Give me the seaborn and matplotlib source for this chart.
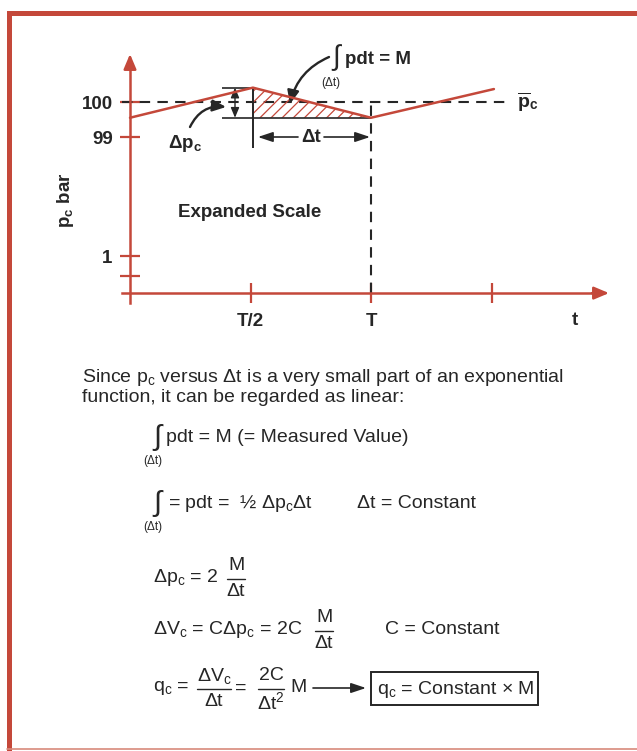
"""Pressure-integral sketch (p_c vs t) with the derivation underneath."""
import matplotlib

matplotlib.use("Agg")
import matplotlib.pyplot as plt
import seaborn as sns

# chart values: time in units of T, pressure in bar on the expanded scale
times = [0.0, 0.51, 1.0, 1.51]
pressure = [99.55, 100.41, 99.55, 100.37]
p_mean = 100.0
x_ticks = [0.5, 1.0, 1.5]
x_tick_labels = ["T/2", "T", ""]
y_ticks = [100.0, 99.0, 95.6, 95.03]
y_tick_labels = ["100", "99", "1", ""]
p_floor = 94.54  # where the time axis sits

RED = "#c4483a"
INK = "#262626"
W, H = 637, 751

# pixel geometry of the chart (origin / scale)
X0, PX_T = 130, 241
Y100, PX_P = 102, 35


def dx(px):
    return (px - X0) / PX_T


def dy(py):
    return 100 - (py - Y100) / PX_P


def main():
    sns.set_style("white")
    plt.rcParams["font.family"] = ["Liberation Sans", "DejaVu Sans"]
    plt.rcParams["mathtext.fontset"] = "custom"
    plt.rcParams["mathtext.rm"] = "Liberation Sans"
    plt.rcParams["mathtext.it"] = "Liberation Sans"
    plt.rcParams["mathtext.bf"] = "Liberation Sans:bold"
    plt.rcParams["mathtext.default"] = "regular"
    plt.rcParams["hatch.linewidth"] = 0.9

    fig = plt.figure(figsize=(W / 100, H / 100), dpi=100)
    fig.patch.set_facecolor("white")

    # page layer in pixel units (frame + derivation text)
    bg = fig.add_axes([0, 0, 1, 1])
    bg.set_xlim(0, W)
    bg.set_ylim(H, 0)
    bg.axis("off")
    bg.add_patch(plt.Rectangle((7, 11), W, 5, color=RED, lw=0))
    bg.add_patch(plt.Rectangle((7, 11), 5, H, color=RED, lw=0))
    bg.plot([7, W], [749, 749], color="#d88a7c", lw=1.2)

    # ---- chart ----
    ax = fig.add_axes([100 / W, 1 - 330 / H, 520 / W, 290 / H])
    ax.patch.set_alpha(0)
    sns.lineplot(x=times, y=pressure, color=RED, lw=1.8, ax=ax, zorder=4)
    ax.set_xlim(dx(100), dx(620))
    ax.set_ylim(dy(330), dy(40))

    for side in ("top", "right"):
        ax.spines[side].set_visible(False)
    ax.spines["left"].set_position(("data", 0))
    ax.spines["bottom"].set_position(("data", p_floor))
    ax.spines["left"].set_bounds(dy(303), dy(62))
    ax.spines["bottom"].set_bounds(dx(122), dx(600))
    for side in ("left", "bottom"):
        ax.spines[side].set_color(RED)
        ax.spines[side].set_linewidth(1.8)

    ax.set_xticks(x_ticks, x_tick_labels, fontweight="bold", fontsize=13.5, color=INK)
    ax.set_yticks(y_ticks, y_tick_labels, fontweight="bold", fontsize=13.5, color=INK)
    ax.tick_params(axis="both", direction="inout", length=15, width=1.6, color=RED,
                   left=True, bottom=True)
    ax.tick_params(axis="x", pad=7)
    ax.tick_params(axis="y", pad=5)
    ax.set_xlabel("")
    ax.set_ylabel("")

    head = dict(arrowstyle="-|>,head_length=0.9,head_width=0.38", color=RED,
                lw=1.8, shrinkA=0, shrinkB=0)
    ax.annotate("", xy=(0, dy(54)), xytext=(0, dy(70)), arrowprops=head)
    ax.annotate("", xy=(dx(609), p_floor), xytext=(dx(592), p_floor), arrowprops=head)

    dash = (0, (5, 3.5))
    ax.hlines(p_mean, dx(122), dx(507), color=INK, lw=1.5, linestyles=[dash])
    ax.vlines(times[2], p_floor, p_mean, color=INK, lw=1.5, linestyles=[dash])

    # hatched area between the falling segment and its end level
    ax.fill([times[1], times[2], times[1]], [pressure[1], pressure[2], pressure[2]],
            facecolor="none", edgecolor=RED, hatch="///", lw=0, zorder=2)

    # bracket for delta p_c
    ax.hlines(pressure[1], dx(222), times[1], color=INK, lw=1.2)
    ax.hlines(pressure[2], dx(222), times[2], color=INK, lw=1.2)
    ax.vlines(times[1], dy(148), pressure[1], color=INK, lw=1.4)
    dbl = dict(arrowstyle="<|-|>,head_length=0.6,head_width=0.25", color=INK,
               lw=1.0, shrinkA=0, shrinkB=0)
    ax.annotate("", xy=(dx(235), pressure[1]), xytext=(dx(235), pressure[2]), arrowprops=dbl)

    # delta t span
    one = dict(arrowstyle="-|>,head_length=0.9,head_width=0.3", color=INK,
               lw=1.2, shrinkA=0, shrinkB=0)
    ax.annotate("", xy=(times[1] + dx(258) - dx(253), 99), xytext=(dx(298), 99), arrowprops=one)
    ax.annotate("", xy=(times[2] - 0.004, 99), xytext=(dx(324), 99), arrowprops=one)
    ax.text(dx(311), 99, "Δt", fontsize=13.5, fontweight="bold", color=INK,
            ha="center", va="center")

    # labels
    ax.text(dx(185), dy(143), r"$\Delta p_c$", fontsize=13.5, fontweight="bold",
            color=INK, ha="center", va="center")
    curve = dict(arrowstyle="-|>,head_length=0.8,head_width=0.35", color=INK, lw=1.7,
                 shrinkA=0, shrinkB=0, connectionstyle="arc3,rad=-0.35")
    ax.annotate("", xy=(dx(226), dy(107)), xytext=(dx(190), dy(127)), arrowprops=curve)
    curve2 = dict(curve, connectionstyle="arc3,rad=0.25")
    ax.annotate("", xy=(dx(290), dy(104)), xytext=(dx(329), dy(57)), arrowprops=curve2)

    ax.text(dx(336), dy(58), "∫", fontsize=20, color=INK, ha="center", va="center")
    ax.text(dx(345), dy(59), "pdt = M", fontsize=13.5, fontweight="bold", color=INK,
            ha="left", va="center")
    ax.text(dx(331), dy(83), "(Δt)", fontsize=8.5, color=INK, ha="center", va="center")
    ax.text(dx(517), p_mean, r"$\overline{\mathbf{p}}_\mathbf{c}$", fontsize=14,
            color=INK, ha="left", va="center")
    ax.text(dx(250), dy(212), "Expanded Scale", fontsize=13.5, fontweight="bold",
            color=INK, ha="center", va="center")
    ax.text(dx(575), dy(320), "t", fontsize=13.5, fontweight="bold", color=INK,
            ha="center", va="center")
    fig.text(65 / W, 1 - 200 / H, r"$\mathbf{p_c}$ bar", rotation=90, fontsize=13.5,
             fontweight="bold", color=INK, ha="center", va="center")

    # ---- derivation text (pixel layer) ----
    def t(x, y, s, size=14, ha="left"):
        bg.text(x, y, s, fontsize=size, color=INK, ha=ha, va="center")

    def frac(xc, y, top, bottom, half):
        t(xc, y - 12, top, ha="center")
        t(xc, y + 14, bottom, ha="center")
        bg.plot([xc - half, xc + half], [y + 1, y + 1], color=INK, lw=1.0)

    t(82, 377, r"Since $p_c$ versus Δt is a very small part of an exponential")
    t(82, 398, "function, it can be regarded as linear:")

    t(157, 437, "∫", size=21, ha="center")
    t(166, 437, "pdt = M (= Measured Value)")
    t(153, 461, "(Δt)", size=8.5, ha="center")

    t(157, 503, "∫", size=21, ha="center")
    t(168, 503, r"= pdt =  ½ $\Delta p_c \Delta t$")
    t(357, 503, "Δt = Constant")
    t(153, 527, "(Δt)", size=8.5, ha="center")

    t(153, 578, r"$\Delta p_c$ = 2")
    frac(236, 578, "M", "Δt", 9)

    t(153, 630, r"$\Delta V_c$ = C$\Delta p_c$ = 2C")
    frac(324, 630, "M", "Δt", 9)
    t(385, 630, "C = Constant")

    t(153, 688, r"$q_c$ =")
    frac(214, 688, r"$\Delta V_c$", "Δt", 17)
    t(241, 688, "=", ha="center")
    frac(271, 688, "2C", r"Δt$^2$", 13)
    t(290, 688, "M")
    bg.annotate("", xy=(366, 688), xytext=(313, 688),
                arrowprops=dict(arrowstyle="-|>,head_length=0.9,head_width=0.3",
                                color=INK, lw=1.2, shrinkA=0, shrinkB=0))
    bg.add_patch(plt.Rectangle((371, 672), 167, 33, fill=False, ec=INK, lw=1.4))
    t(377, 689, r"$q_c$ = Constant × M")

    fig.savefig("out.png", dpi=100, facecolor="white")
    return 0


if __name__ == "__main__":
    raise SystemExit(main())
